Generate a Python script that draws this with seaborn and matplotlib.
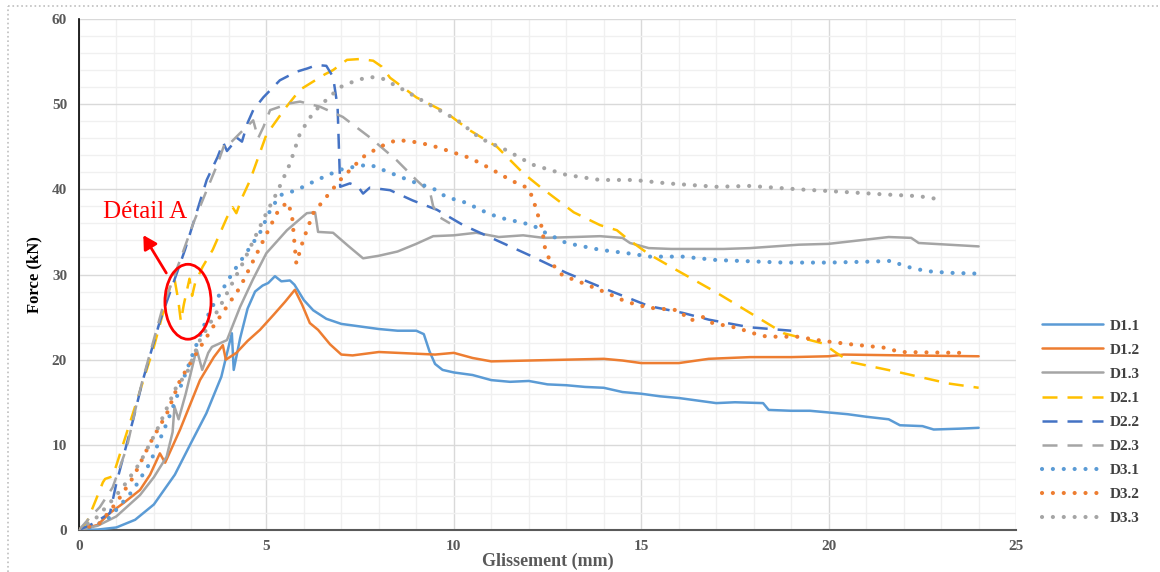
import numpy as np
import pandas as pd
import matplotlib
matplotlib.use("Agg")
import matplotlib.pyplot as plt
from matplotlib.patches import Ellipse
from matplotlib.lines import Line2D
import seaborn as sns

# Force-slip curves, values
D11_X = [0, 0.5, 1.0, 1.5, 2.0, 2.56, 3.0, 3.4, 3.8, 4.08, 4.13, 4.3, 4.5, 4.7, 4.9, 5.05, 5.23, 5.4, 5.63,
         5.75, 6.0, 6.25, 6.6, 7.0, 7.5, 8.0, 8.5, 9.0, 9.2, 9.35, 9.5, 9.7, 10.0, 10.5, 11.0, 11.5, 12.0,
         12.5, 13.0, 13.5, 14.0, 14.5, 15.0, 15.5, 16.0, 16.5, 17.0, 17.5, 18.25, 18.4, 19.0, 19.5, 20.0,
         20.5, 21.0, 21.6, 21.9, 22.5, 22.8, 23.5, 24.0]
D11_Y = [0, 0.05, 0.3, 1.2, 3.0, 6.5, 10.3, 13.7, 18.0, 23.1, 18.8, 22.5, 26.0, 28.0, 28.7, 29.0, 29.8, 29.2, 29.3,
         28.8, 27.0, 25.8, 24.8, 24.2, 23.9, 23.6, 23.4, 23.4, 23.0, 21.0, 19.5, 18.8, 18.5, 18.2, 17.6, 17.4, 17.5,
         17.1, 17.0, 16.8, 16.7, 16.2, 16.0, 15.7, 15.5, 15.2, 14.9, 15.0, 14.9, 14.1, 14.0, 14.0, 13.8,
         13.6, 13.3, 13.0, 12.3, 12.2, 11.8, 11.9, 12.0]

D12_X = [0, 0.5, 0.83, 1.2, 1.63, 1.9, 2.16, 2.3, 2.7, 3.23, 3.6, 3.84, 3.92, 4.2, 4.5, 4.83, 5.2, 5.5, 5.76,
         5.95, 6.16, 6.38, 6.7, 7.0, 7.3, 8.0, 8.5, 9.0, 9.5, 10.0, 10.5, 11.0, 12.0, 13.0, 14.0, 14.5, 15.0,
         16.0, 16.8, 17.9, 19.0, 20.0, 20.4, 22.0, 24.0]
D12_Y = [0, 0.6, 2.0, 3.2, 4.7, 6.5, 9.0, 7.9, 11.8, 17.6, 20.3, 21.7, 20.0, 20.8, 22.2, 23.5, 25.3, 26.8, 28.2,
         26.5, 24.3, 23.5, 21.8, 20.6, 20.5, 20.9, 20.8, 20.7, 20.6, 20.8, 20.2, 19.8, 19.9, 20.0, 20.1, 19.9, 19.6,
         19.6, 20.1, 20.3, 20.3, 20.4, 20.6, 20.5, 20.4]

D13_X = [0, 0.5, 1.0, 1.63, 2.0, 2.34, 2.5, 2.55, 2.66, 2.85, 3.1, 3.15, 3.29, 3.45, 3.55, 3.95, 4.3, 4.64,
         5.0, 5.55, 6.08, 6.3, 6.38, 6.78, 7.2, 7.58, 8.0, 8.5, 9.0, 9.45, 10.0, 10.6, 11.2, 11.85, 12.4, 13.2,
         13.9, 14.5, 14.7, 15.2, 15.8, 17.2, 17.9, 19.2, 20.0, 20.8, 21.6, 22.2, 22.4, 23.2, 24.0]
D13_Y = [0, 0.5, 1.6, 4.1, 6.2, 8.6, 11.5, 14.5, 13.0, 16.0, 20.5, 21.1, 18.8, 20.8, 21.5, 22.3, 26.2, 29.4,
         32.5, 35.2, 37.2, 37.3, 35.0, 34.9, 33.3, 31.9, 32.2, 32.7, 33.6, 34.5, 34.6, 34.9, 34.4, 34.6, 34.3, 34.4,
         34.5, 34.3, 33.7, 33.1, 33.0, 33.0, 33.1, 33.5, 33.6, 34.0, 34.4, 34.3, 33.7, 33.5, 33.3]

D21_X = [0, 0.2, 0.45, 0.64, 0.7, 0.9, 1.0, 1.5, 2.0, 2.43, 2.55, 2.65, 2.72, 2.8, 2.95, 3.02, 3.1, 3.3, 3.57,
         3.95, 4.1, 4.2, 4.35, 4.56, 5.0, 5.5, 5.9, 6.56, 6.78, 7.15, 7.5, 7.85, 8.08, 8.3, 9.0, 9.8, 10.4,
         11.15, 11.85, 12.3, 13.2, 13.9, 14.35, 14.6, 15.2, 15.95, 17.0, 17.9, 18.8, 19.85, 20.2, 20.6, 21.9,
         23.2, 24.0]
D21_Y = [0, 0.8, 3.5, 5.6, 6.0, 6.3, 7.6, 14.5, 21.5, 28.5, 29.5, 27.0, 24.5, 26.5, 29.5, 27.5, 29.0, 30.9, 32.9,
         36.7, 37.9, 37.2, 39.0, 41.0, 46.4, 49.5, 51.7, 53.5, 54.0, 55.2, 55.3, 55.1, 54.4, 53.1, 50.8, 49.0, 47.0,
         45.0, 41.9, 40.3, 37.3, 35.8, 35.2, 34.3, 32.4, 30.5, 27.9, 25.5, 23.1, 21.9, 20.8, 19.7, 18.5,
         17.2, 16.7]

D22_X = [0, 0.4, 0.83, 1.0, 1.45, 1.7, 2.16, 2.83, 3.41, 3.7, 3.85, 3.95, 4.1, 4.2, 4.35, 4.5, 4.65, 4.92,
         5.36, 5.8, 6.1, 6.35, 6.6, 6.78, 6.9, 6.97, 7.23, 7.45, 7.58, 7.76, 8.3, 8.9, 9.55, 10.25, 11.15,
         12.0, 13.0, 14.1, 14.8, 15.2, 16.1, 16.8, 17.9, 19.0]
D22_Y = [0, 0.8, 2.0, 5.5, 13.0, 17.5, 24.5, 32.9, 41.1, 43.8, 45.5, 44.5, 45.3, 46.1, 45.6, 47.8, 49.3, 50.8,
         52.8, 53.8, 54.2, 54.6, 54.5, 53.2, 49.7, 40.3, 40.7, 40.3, 39.5, 40.2, 39.9, 38.7, 37.6, 35.8, 34.0,
         32.3, 30.2, 28.2, 27.0, 26.3, 25.5, 24.7, 23.8, 23.4]

D23_X = [0, 0.3, 0.56, 0.9, 1.28, 1.55, 1.7, 2.24, 2.7, 3.05, 3.41, 3.7, 3.9, 4.03, 4.3, 4.65, 4.78, 4.92,
         5.1, 5.63, 5.9, 6.43, 7.04, 7.76, 8.48, 9.0, 9.37, 9.45, 9.63, 9.9]
D23_Y = [0, 1.5, 2.7, 5.0, 9.7, 15.0, 17.6, 26.2, 31.7, 36.0, 39.9, 43.0, 45.5, 45.4, 46.6, 48.1, 46.0, 47.3,
         49.3, 50.1, 50.3, 49.7, 48.5, 46.1, 43.4, 41.1, 39.6, 38.0, 36.7, 36.0]

D31_X = [0, 0.4, 0.83, 1.45, 1.9, 2.35, 2.6, 3.05, 3.5, 4.1, 4.83, 5.1, 5.36, 5.8, 6.35, 6.97, 7.4, 7.76, 8.1,
         8.9, 9.45, 9.8, 10.35, 10.7, 11.2, 11.6, 12.1, 12.4, 13.0, 13.9, 14.8, 15.2, 16.1, 17.0, 18.8, 20.0,
         21.0, 21.7, 22.0, 22.6, 23.2, 24.0]
D31_Y = [0, 0.4, 1.5, 4.7, 7.9, 12.6, 15.5, 20.8, 25.8, 30.2, 34.9, 37.5, 39.3, 39.9, 41.1, 42.3, 42.7, 42.9, 42.3,
         40.9, 40.1, 39.1, 38.4, 37.6, 36.7, 36.3, 35.8, 35.0, 33.7, 32.9, 32.4, 32.1, 32.1, 31.7, 31.4, 31.4,
         31.5, 31.6, 31.0, 30.4, 30.2, 30.1]

D32_X = [0, 0.56, 1.0, 1.45, 1.9, 2.35, 2.7, 3.1, 3.57, 4.3, 4.83, 5.28, 5.55, 5.68, 5.76, 5.8, 5.98, 6.25, 6.6,
         6.97, 7.58, 8.03, 8.48, 8.9, 9.37, 9.8, 10.35, 10.7, 11.15, 11.55, 11.95, 12.1, 12.2, 12.35, 12.43,
         12.57, 12.9, 13.55, 14.1, 14.6, 15.2, 16.0, 16.3, 16.65, 16.9, 17.6, 17.9, 18.35, 19.15, 19.85, 20.6,
         21.5, 21.9, 23.5]
D32_Y = [0, 0.8, 3.2, 6.2, 10.2, 13.7, 17.6, 20.5, 23.8, 28.5, 33.2, 37.2, 38.5, 37.2, 33.2, 31.3, 34.0, 37.2, 39.1,
         41.1, 43.8, 45.0, 45.8, 45.6, 45.2, 44.6, 43.8, 43.1, 42.0, 41.0, 40.2, 39.1, 37.6, 35.5, 33.2,
         31.5, 29.9, 28.8, 27.8, 26.8, 26.1, 25.8, 24.6, 25.0, 24.3, 23.7, 23.2, 22.7, 22.7, 22.2, 21.8,
         21.4, 20.9, 20.8]

D33_X = [0, 0.48, 0.83, 1.17, 1.63, 2.08, 2.6, 2.88, 3.23, 3.76, 4.38, 5.0, 5.28, 5.63, 5.9, 6.25, 6.6, 6.97,
         7.4, 7.76, 8.1, 8.65, 9.37, 10.1, 10.7, 11.4, 12.1, 13.0, 13.9, 14.8, 15.7, 17.0, 17.9, 19.2, 20.0,
         21.5, 22.4, 23.0]
D33_Y = [0, 1.5, 3.2, 5.0, 7.9, 11.7, 16.8, 18.4, 22.3, 26.2, 31.4, 37.2, 39.6, 43.0, 46.6, 49.0, 50.5, 52.0,
         52.8, 53.2, 53.0, 51.7, 49.9, 48.1, 46.0, 44.6, 42.9, 41.7, 41.1, 41.1, 40.7, 40.3, 40.4, 40.0, 39.8,
         39.4, 39.2, 38.8]

SERIES = ["D1.1", "D1.2", "D1.3", "D2.1", "D2.2", "D2.3", "D3.1", "D3.2", "D3.3"]
XS = [D11_X, D12_X, D13_X, D21_X, D22_X, D23_X, D31_X, D32_X, D33_X]
YS = [D11_Y, D12_Y, D13_Y, D21_Y, D22_Y, D23_Y, D31_Y, D32_Y, D33_Y]

COLORS = ["#5B9BD5", "#ED7D31", "#A5A5A5", "#FFC000", "#4472C4", "#A5A5A5", "#5B9BD5", "#ED7D31", "#A5A5A5"]
KINDS = ["solid"] * 3 + ["dashed"] * 3 + ["dotted"] * 3

sns.set_style("white")
plt.rcParams["font.family"] = ["Liberation Serif", "DejaVu Serif"]

fig = plt.figure(figsize=(11.6, 5.72), dpi=100)
ax = fig.add_axes([0.068, 0.0734, 0.808, 0.8934])

frames = []
for name, xs, ys in zip(SERIES, XS, YS):
    frames.append(pd.DataFrame({"series": name, "x": xs, "y": ys}))
df = pd.concat(frames, ignore_index=True)

handles = []
for name, color, kind in zip(SERIES, COLORS, KINDS):
    sub = df[df["series"] == name]
    n_before = len(ax.lines)
    lw = 3.0 if kind == "dotted" else 1.8
    sns.lineplot(data=sub, x="x", y="y", color=color, linewidth=lw, estimator=None,
                 sort=False, ax=ax, legend=False, zorder=3)
    line = ax.lines[n_before]
    if kind == "dashed":
        line.set_dashes((6, 4))
        line.set_dash_capstyle("butt")
    elif kind == "dotted":
        line.set_dashes((0.01, 2.6))
        line.set_dash_capstyle("round")
    handle = Line2D([], [], color=color, linewidth=lw)
    if kind == "dashed":
        handle.set_dashes((6, 4))
    elif kind == "dotted":
        handle.set_dashes((0.01, 2.6))
        handle.set_dash_capstyle("round")
    handles.append(handle)

ax.set_xlim(0, 25)
ax.set_ylim(0, 60)
ax.set_xticks(np.arange(0, 26, 5))
ax.set_yticks(np.arange(0, 61, 10))
ax.set_xticks(np.arange(0, 26, 1), minor=True)
ax.set_yticks(np.arange(0, 61, 2), minor=True)
ax.grid(which="major", color="#D9D9D9", linewidth=1.0, zorder=0)
ax.grid(which="minor", color="#F0F0F0", linewidth=1.0, zorder=0)
ax.set_axisbelow(True)

for side in ["top", "right"]:
    ax.spines[side].set_visible(False)
ax.spines["left"].set_color("black")
ax.spines["left"].set_linewidth(1.2)
ax.spines["bottom"].set_color("#595959")
ax.spines["bottom"].set_linewidth(1.5)

ax.tick_params(axis="both", which="major", direction="out", length=5, width=1,
               labelsize=11, labelcolor="#595959", color="#404040")
ax.tick_params(axis="x", which="major", pad=2)
ax.tick_params(axis="both", which="minor", length=0)
for lab in ax.get_xticklabels() + ax.get_yticklabels():
    lab.set_fontweight("bold")

ax.set_xlabel("Glissement (mm)", fontsize=13, fontweight="bold", color="#595959", labelpad=0)
ax.set_ylabel("Force (kN)", fontsize=12, fontweight="bold", color="black", labelpad=7)

# Detail A annotation
ax.add_patch(Ellipse((2.91, 26.8), 1.23, 8.8, fill=False, edgecolor="red", linewidth=2, zorder=4))
ax.annotate("", xy=(1.68, 34.9), xytext=(2.37, 29.9),
            arrowprops=dict(arrowstyle="-|>,head_length=0.8,head_width=0.45", color="red", lw=2), zorder=4)
ax.text(1.76, 37.3, "Détail A", color="red", fontsize=18, ha="center", va="center", zorder=4)

fig.legend(handles=handles, labels=SERIES, loc="center left", bbox_to_anchor=(0.886, 0.262),
           frameon=False, handlelength=4.0, labelspacing=0.68, handletextpad=0.5,
           prop={"weight": "bold", "size": 11}, labelcolor="#404040")

# Dotted chart-area border (top and left only visible)
fig.add_artist(Line2D([0.007, 1.0], [0.9895, 0.9895], transform=fig.transFigure,
                      color="#BFBFBF", linestyle=":", linewidth=1.2))
fig.add_artist(Line2D([0.007, 0.007], [0.0, 0.9895], transform=fig.transFigure,
                      color="#BFBFBF", linestyle=":", linewidth=1.2))

fig.savefig("out.png", dpi=100)
